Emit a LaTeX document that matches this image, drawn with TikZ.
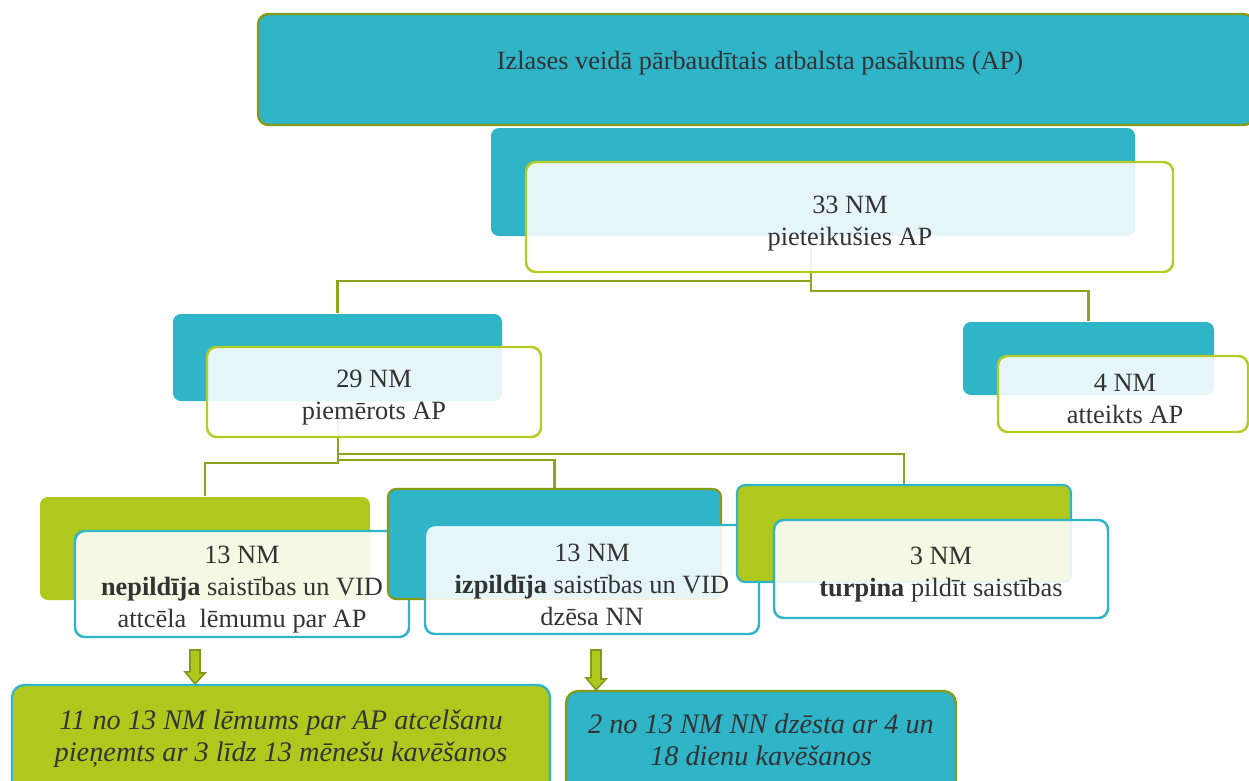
\documentclass[tikz,border=0pt]{standalone}
\usepackage{fontspec}
\setmainfont{Liberation Serif}
\usetikzlibrary{fit,calc}
\pgfdeclarelayer{back}
\pgfsetlayers{back,main}

\definecolor{cteal}{HTML}{2FB4C8}
\definecolor{cgreen}{HTML}{B0C81E}
\definecolor{colive}{HTML}{859A18}
\definecolor{clime}{HTML}{B5CC25}
\definecolor{cline}{HTML}{8EA41C}
\definecolor{ctext}{HTML}{333333}
\definecolor{carrow}{HTML}{7F9A1A}

\tikzset{
  boxbase/.style={rectangle, inner sep=0pt, line width=1.2pt},
  backteal/.style={boxbase, fill=cteal, rounded corners=4.5pt},
  backgreen/.style={boxbase, fill=cgreen, rounded corners=4.5pt},
  frontbox/.style={boxbase, fill=white, fill opacity=0.88, rounded corners=5.5pt, line width=1.4pt},
  txt/.style={align=center, text=ctext, inner sep=0pt, font=\fontsize{15}{18.2}\selectfont},
  itxt/.style={align=center, text=ctext, inner sep=0pt, font=\fontsize{16.1}{18.2}\selectfont\itshape},
  conn/.style={draw=cline, line width=1.4pt},
  blockarrow/.style={fill=cgreen, draw=carrow, line width=0.9pt, line join=miter},
}

\begin{document}
\begin{tikzpicture}[x=0.02cm, y=-0.02cm]
\useasboundingbox (0,0) rectangle (1249,781);

% title box
\node[boxbase, fill=cteal, draw=colive, rounded corners=6pt, line width=1.4pt,
      fit={(258,14) (1254,125)}] (top) {};
\node[txt] (ttop) at (760,63) {Izlases veidā pārbaudītais atbalsta pasākums (AP)};

% applicants
\node[backteal, fit={(491,128) (1135,236)}] (b33) {};
\node[frontbox, draw=clime, fit={(526,162) (1173,272)}] (f33) {};
\node[txt] (t33) at (850,224) {33 NM\\pieteikušies AP};

% suitable
\node[backteal, fit={(173,314) (502,401)}] (b29) {};
\node[frontbox, draw=clime, fit={(207,347) (541,437)}] (f29) {};
\node[txt] (t29) at (374,398) {29 NM\\piemērots AP};

% rejected
\node[backteal, fit={(963,322) (1214,395)}] (b4) {};
\node[frontbox, draw=clime, fit={(998,356) (1248,432)}] (f4) {};
\node[txt] (t4) at (1125,399) {4 NM\\atteikts AP};

% not fulfilled
\node[backgreen, fit={(40,497) (370,600)}] (bL) {};
\node[frontbox, draw=cteal, fit={(75,531) (409,637)}] (fL) {};
\node[txt] (tL) at (242,590) {13 NM\\\textbf{nepildīja} saistības un VID\\attcēla\ \ lēmumu par AP};

% fulfilled
\node[backteal, draw=colive, fit={(388,489) (721,599)}] (bM) {};
\node[frontbox, draw=cteal, fit={(425,525) (759,634)}] (fM) {};
\node[txt] (tM) at (592,585) {13 NM\\\textbf{izpildīja} saistības un VID\\dzēsa NN};

% continuing
\node[backgreen, draw=cteal, fit={(737,485) (1071,582)}] (bR) {};
\node[frontbox, draw=cteal, fit={(774,520) (1108,618)}] (fR) {};
\node[txt] (tR) at (941,575) {3 NM\\\textbf{turpina} pildīt saistības};

% outcome boxes
\node[backgreen, draw=cteal, rounded corners=7pt, line width=1.3pt, fit={(12,685) (550,800)}] (oL) {};
\node[itxt] (toL) at (281,739) {11 no 13 NM lēmums par AP atcelšanu\\pieņemts ar 3 līdz 13 mēnešu kavēšanos};
\node[backteal, draw=colive, rounded corners=7pt, line width=1.3pt, fit={(566,691) (956,800)}] (oR) {};
\node[itxt] (toR) at (761,740) {2 no 13 NM NN dzēsta ar 4 un\\18 dienu kavēšanos};

% junction points of the tree
\coordinate (j1) at (811,281);
\coordinate (j2) at (811,291);
\coordinate (jR) at (338,454);
\coordinate (jM) at (338,460);
\coordinate (jL) at (338,463);

\begin{pgfonlayer}{back}
  \draw[conn] ($(f33.south -| j1)+(0,-25)$) -- (j1) -| (b29.north);
  \draw[conn] (j1) -- (j2) -| (b4.north);
  \draw[conn] ($(f29.south -| jL)+(0,-20)$) -- (jL) -| (bL.north);
  \draw[conn] (jM) -| (bM.north);
  \draw[conn] (jR) -| (bR.north);
\end{pgfonlayer}

% block arrows towards the outcome boxes
\coordinate (a1) at (195,650);
\coordinate (a2) at (596,650);
\draw[blockarrow] (a1) ++(-5,0) -- ++(10,0) -- ++(0,23) -- ++(5,0)
  -- (oL.north -| a1) -- ++(-10,-12) -- ++(5,0) -- cycle;
\draw[blockarrow] (a2) ++(-5,0) -- ++(10,0) -- ++(0,29) -- ++(5,0)
  -- (oR.north -| a2) -- ++(-10,-12) -- ++(5,0) -- cycle;
\end{tikzpicture}
\end{document}
